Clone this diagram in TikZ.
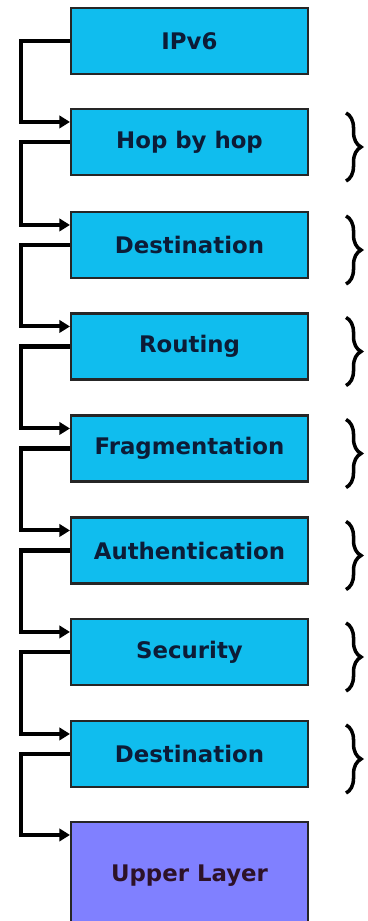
\documentclass[tikz,border=0pt]{standalone}
\usepackage{fontspec}
\setmainfont{DejaVu Sans}
\usetikzlibrary{calc,arrows.meta,decorations.pathreplacing}
\definecolor{hdrblue}{RGB}{16,189,238}
\definecolor{upblue}{RGB}{128,128,255}
\definecolor{txtdark}{RGB}{12,28,55}
\definecolor{txtup}{RGB}{45,18,40}

\begin{document}
\begin{tikzpicture}[x=0.02cm,y=-0.02cm,
	hdr/.style={draw=black!85,line width=1.2pt,fill=hdrblue,minimum width=4.74cm,minimum height=1.32cm,
		font=\fontsize{13}{15}\selectfont\bfseries,text=txtdark,inner sep=0pt},
	conn/.style={line width=2.3pt,-{Triangle[length=6pt,width=7pt]}},
	brc/.style={decorate,decoration={brace,amplitude=0.3cm},line width=2pt}]
	\clip (0,0) rectangle (368,921);
	\node[hdr] (ipv) at (189.5,41) {IPv6};
	\node[hdr] (hop) at (189.5,142) {Hop by hop};
	\node[hdr] (dst) at (189.5,245) {Destination};
	\node[hdr] (rout) at (189.5,346.5) {Routing};
	\node[hdr] (frag) at (189.5,448.5) {Fragmentation};
	\node[hdr] (auth) at (189.5,550.5) {Authentication};
	\node[hdr] (sec) at (189.5,652) {Security};
	\node[hdr] (dstb) at (189.5,754) {Destination};
	\node[hdr,fill=upblue,text=txtup,minimum height=2.76cm,text depth=0.72cm] (upper) at (189.5,891) {Upper Layer};
	% chain of headers
	\draw[conn] (ipv.west) -- ++(-49,0) |- ($(hop.north west)+(0,14)$);
	\draw[conn] (hop.west) -- ++(-49,0) |- ($(dst.north west)+(0,14)$);
	\draw[conn] (dst.west) -- ++(-49,0) |- ($(rout.north west)+(0,14)$);
	\draw[conn] (rout.west) -- ++(-49,0) |- ($(frag.north west)+(0,14)$);
	\draw[conn] (frag.west) -- ++(-49,0) |- ($(auth.north west)+(0,14)$);
	\draw[conn] (auth.west) -- ++(-49,0) |- ($(sec.north west)+(0,14)$);
	\draw[conn] (sec.west) -- ++(-49,0) |- ($(dstb.north west)+(0,14)$);
	\draw[conn] (dstb.west) -- ++(-49,0) |- ($(upper.north west)+(0,14)$);
	% braces
	\foreach \b in {hop,dst,rout,frag,auth,sec,dstb}
		\draw[brc] ($(\b.north east)+(37,5)$) -- ($(\b.south east)+(37,5)$);
\end{tikzpicture}
\end{document}
